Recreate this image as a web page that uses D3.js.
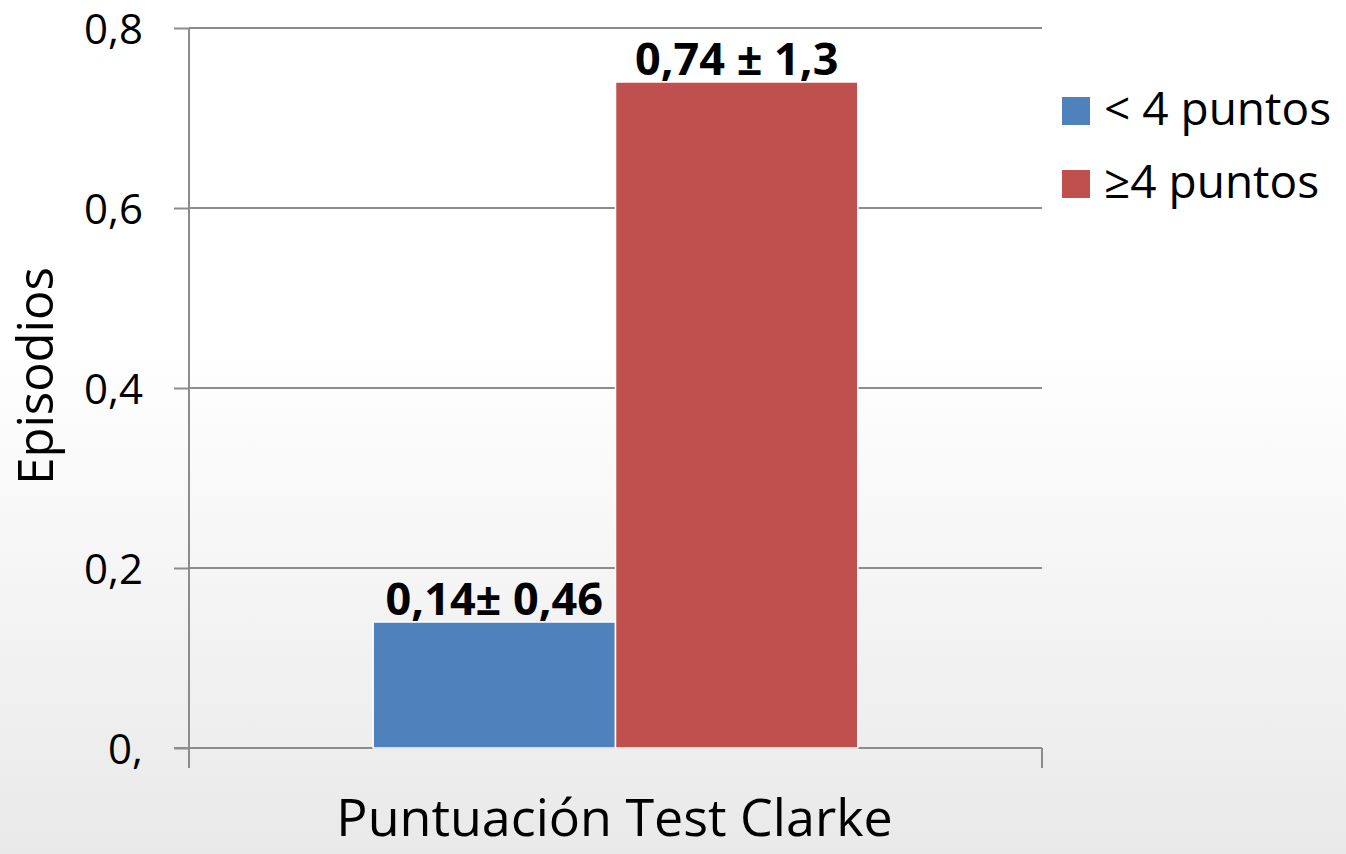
<!DOCTYPE html>
<meta charset="utf-8">
<html>
<head>
<script src="https://d3js.org/d3.v7.min.js"></script>
<style>
  body { margin: 0; background: #fff; }
  svg { display: block; font-family: "Open Sans", sans-serif; }
  .axis path, .axis line { stroke: #8c8c8c; stroke-width: 2; }
  .grid line { stroke: #8c8c8c; stroke-width: 2; }
</style>
</head>
<body>
<svg width="1346" height="854"></svg>
<script>
// data
var categories = ["Puntuación Test Clarke"];
var series = ["< 4 puntos", "≥4 puntos"];
var values = [0.14, 0.74];
var barLabels = ["0,14± 0,46", "0,74 ± 1,3"];
var yTicks = [0, 0.2, 0.4, 0.6, 0.8];
var yTickLabels = ["0,", "0,2", "0,4", "0,6", "0,8"];
var colors = ["#4f81bd", "#c0504d"];

var svg = d3.select("svg"),
    margin = {top: 28, right: 304, bottom: 106, left: 189},
    width = +svg.attr("width") - margin.left - margin.right,
    height = +svg.attr("height") - margin.top - margin.bottom;

// background fade
var defs = svg.append("defs");
var grad = defs.append("linearGradient").attr("id", "bg")
    .attr("x1", 0).attr("y1", 0).attr("x2", 0).attr("y2", 1);
grad.append("stop").attr("offset", "0%").attr("stop-color", "#ffffff");
grad.append("stop").attr("offset", "40%").attr("stop-color", "#ffffff");
grad.append("stop").attr("offset", "100%").attr("stop-color", "#e9e9e9");
svg.append("rect").attr("width", 1346).attr("height", 854).attr("fill", "url(#bg)");

var g = svg.append("g").attr("transform", "translate(" + margin.left + "," + margin.top + ")");

var x0 = d3.scaleBand().domain(categories).range([0, width]).padding(0);
var x1 = d3.scaleBand().domain(series).range([0, x0.bandwidth()]).paddingInner(0).paddingOuter(0.76);
var y = d3.scaleLinear().domain([0, 0.8]).range([height, 0]);

// gridlines
g.append("g").attr("class", "grid")
  .selectAll("line").data(yTicks.slice(1)).enter().append("line")
    .attr("x1", 0).attr("x2", width)
    .attr("y1", function(d) { return y(d); })
    .attr("y2", function(d) { return y(d); });

// y axis
var yAxis = g.append("g").attr("class", "axis")
  .call(d3.axisLeft(y).tickValues(yTicks).tickSize(15).tickSizeOuter(0)
    .tickFormat(function(d, i) { return yTickLabels[i]; }));
yAxis.select(".domain").remove();
yAxis.append("line").attr("x1", 0).attr("x2", 0).attr("y1", 0).attr("y2", height + 20);
yAxis.selectAll("text").attr("x", -46).attr("dy", "0.36em")
  .attr("font-size", 42).attr("fill", "#000").attr("font-family", "Open Sans");

// x axis: baseline with ticks at band edges
var xAxis = g.append("g").attr("class", "axis").attr("transform", "translate(0," + height + ")");
xAxis.append("line").attr("x1", -15).attr("x2", width).attr("y1", 0).attr("y2", 0);
xAxis.selectAll(".edge").data(x0.range()).enter().append("line")
    .attr("x1", function(d) { return d; }).attr("x2", function(d) { return d; })
    .attr("y1", 0).attr("y2", 20);

// bars
var grp = g.selectAll(".cat").data(categories).enter().append("g")
    .attr("transform", function(d) { return "translate(" + x0(d) + ",0)"; });

grp.selectAll("rect").data(values).enter().append("rect")
    .attr("x", function(d, i) { return x1(series[i]); })
    .attr("y", function(d) { return y(d); })
    .attr("width", x1.bandwidth())
    .attr("height", function(d) { return height - y(d); })
    .attr("fill", function(d, i) { return colors[i]; })
    .attr("stroke", "#fff").attr("stroke-width", 1.5);

grp.selectAll(".lbl").data(values).enter().append("text")
    .attr("x", function(d, i) { return x1(series[i]) + x1.bandwidth() / 2; })
    .attr("y", function(d) { return y(d) - 7; })
    .attr("text-anchor", "middle")
    .attr("font-size", 45).attr("font-weight", "bold")
    .text(function(d, i) { return barLabels[i]; });

// axis titles
svg.append("text")
    .attr("transform", "translate(53,376) rotate(-90)")
    .attr("text-anchor", "middle").attr("font-size", 49)
    .text("Episodios");

svg.append("text")
    .attr("x", margin.left + width / 2 - 1).attr("y", 836)
    .attr("text-anchor", "middle").attr("font-size", 52)
    .text(categories[0]);

// legend
var legend = svg.append("g").attr("transform", "translate(1062,97)");
var item = legend.selectAll("g").data(series).enter().append("g")
    .attr("transform", function(d, i) { return "translate(0," + i * 73 + ")"; });
item.append("rect").attr("width", 28).attr("height", 28)
    .attr("fill", function(d, i) { return colors[i]; });
item.append("text").attr("x", 42).attr("y", 28)
    .attr("font-size", 46).text(function(d) { return d; });
</script>
</body>
</html>
